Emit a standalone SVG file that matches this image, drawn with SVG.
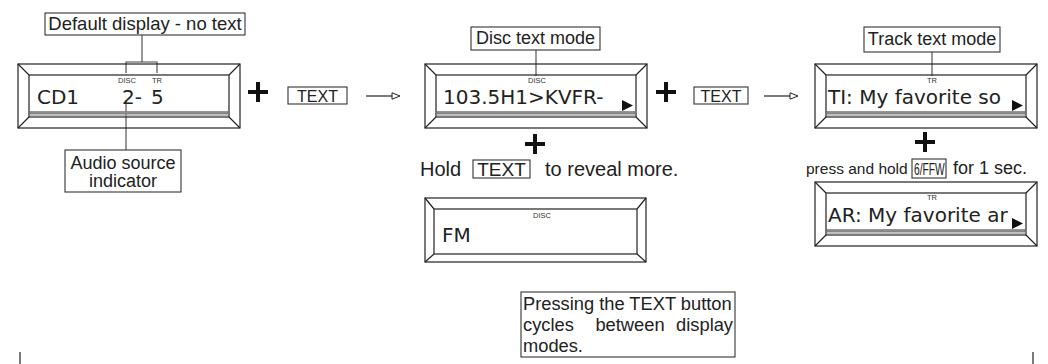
<svg xmlns="http://www.w3.org/2000/svg" xmlns:xlink="http://www.w3.org/1999/xlink" width="1048" height="364" viewBox="0 0 1048 364">
<style>
.ln{fill:none;stroke:#222;stroke-width:1.2}
.cn{fill:none;stroke:#444;stroke-width:1.1}
.box{fill:#fff;stroke:#333;stroke-width:1.1}
.lbl{font-family:"Liberation Sans",Arial,sans-serif;fill:#222}
.dsp{font-family:"DejaVu Sans",Verdana,sans-serif;font-size:20px;fill:#222}
.sm{font-family:"Liberation Sans",Arial,sans-serif;font-size:7.5px;fill:#333}
.plus{fill:none;stroke:#111;stroke-width:4}
.gray{fill:#8c8c8c;stroke:#666;stroke-width:0.5}
.tri{fill:#111}
</style>
<defs>
<g id="bezel">
<rect class="ln" x="0" y="0" width="222" height="64"/>
<rect class="ln" x="11" y="11" width="200" height="42"/>
<path class="ln" d="M0,0 L11,11 M222,0 L211,11 M0,64 L11,53 M222,64 L211,53"/>
</g>
<g id="bar">
<rect class="gray" x="12" y="47.5" width="198" height="2.6"/>
<line x1="12" y1="51.5" x2="210" y2="51.5" stroke="#aaa" stroke-width="0.8"/>
</g>
<marker id="open" markerUnits="userSpaceOnUse" markerWidth="12" markerHeight="10" refX="1" refY="4" orient="auto">
<path d="M1,0.8 L9,4 L1,7.2 z" fill="#fff" stroke="#222" stroke-width="1"/>
</marker>
</defs>
<rect width="1048" height="364" fill="#fff"/>

<g id="connectors">
<path class="cn" d="M142,35 V62 M126,73 V62 H157 V73"/>
<path class="cn" d="M126,100 V150"/>
<path class="cn" d="M536,50 V76"/>
<path class="cn" d="M932,52 V76"/>
<path class="ln" d="M366,96 H392" marker-end="url(#open)"/>
<path class="ln" d="M764,96 H790" marker-end="url(#open)"/>
<path class="ln" d="M20,352 V364 M1033,352 V364"/>
</g>

<g id="label-default">
<rect class="box" x="45" y="13" width="200" height="22"/>
<text class="lbl" x="145" y="30" font-size="18.5" text-anchor="middle">Default display - no text</text>
</g>

<g id="display-default">
<use xlink:href="#bezel" x="18" y="64"/>
<use xlink:href="#bar" x="18" y="64"/>
<text class="sm" x="118" y="83">DISC</text>
<text class="sm" x="152" y="83">TR</text>
<text class="dsp" x="37" y="104">CD1</text>
<text class="dsp" x="122" y="104">2-</text>
<text class="dsp" x="151" y="104">5</text>
</g>

<g id="label-audio">
<rect class="box" x="65" y="150" width="116" height="42"/>
<text class="lbl" x="123" y="169" font-size="18" text-anchor="middle">Audio source</text>
<text class="lbl" x="123" y="187" font-size="18" text-anchor="middle">indicator</text>
</g>

<g id="plus1"><path class="plus" d="M248,92 H268 M258,82 V102"/></g>

<g id="button-text-1">
<rect class="box" x="288" y="87" width="59" height="17"/>
<text class="lbl" x="317.5" y="101.5" font-size="16" text-anchor="middle" fill="#333">TEXT</text>
</g>

<g id="label-disc">
<rect class="box" x="471" y="27" width="129" height="23"/>
<text class="lbl" x="535.5" y="44" font-size="18" text-anchor="middle">Disc text mode</text>
</g>

<g id="display-disc">
<use xlink:href="#bezel" x="425" y="64"/>
<use xlink:href="#bar" x="425" y="64"/>
<text class="sm" x="528" y="83">DISC</text>
<text class="dsp" x="443" y="104">103.5H1&gt;KVFR-</text>
<polygon class="tri" points="622,100 622,111 633,105.5"/>
</g>

<g id="plus2"><path class="plus" d="M656,92 H676 M666,82 V102"/></g>

<g id="button-text-2">
<rect class="box" x="694" y="87" width="54" height="17"/>
<text class="lbl" x="721" y="101.5" font-size="16" text-anchor="middle" fill="#333">TEXT</text>
</g>

<g id="label-track">
<rect class="box" x="864" y="27" width="136" height="25"/>
<text class="lbl" x="932" y="45" font-size="18" text-anchor="middle">Track text mode</text>
</g>

<g id="display-track">
<use xlink:href="#bezel" x="815" y="64"/>
<use xlink:href="#bar" x="815" y="64"/>
<text class="sm" x="927" y="83">TR</text>
<text class="dsp" x="828" y="104">TI: My favorite so</text>
<polygon class="tri" points="1012,100 1012,111 1023,105.5"/>
</g>

<g id="plus3"><path class="plus" d="M525,144 H545 M535,134 V154"/></g>

<g id="hold-text">
<text class="lbl" x="420" y="176" font-size="20">Hold</text>
<rect class="box" x="473" y="160" width="57" height="18"/>
<text class="lbl" x="501.5" y="175.5" font-size="19" text-anchor="middle" fill="#333">TEXT</text>
<text class="lbl" x="545" y="176" font-size="20">to reveal more.</text>
</g>

<g id="display-fm">
<rect class="ln" x="425" y="198" width="221" height="64"/>
<rect class="ln" x="434" y="209" width="203" height="45"/>
<path class="ln" d="M425,198 L434,209 M646,198 L637,209 M425,262 L434,254 M646,262 L637,254"/>
<text class="sm" x="533" y="218">DISC</text>
<text class="dsp" x="442" y="242">FM</text>
</g>

<g id="plus4"><path class="plus" d="M915,142 H935 M925,132 V152"/></g>

<g id="hold-ffw">
<text class="lbl" x="806" y="174" font-size="15.5">press and hold</text>
<rect class="box" x="912" y="159" width="34" height="19"/>
<text class="lbl" transform="translate(914,175) scale(0.64,1)" font-size="16">6/FFW</text>
<text class="lbl" x="953" y="174" font-size="18">for 1 sec.</text>
</g>

<g id="display-artist">
<use xlink:href="#bezel" x="815" y="182"/>
<use xlink:href="#bar" x="815" y="182"/>
<text class="sm" x="927" y="200">TR</text>
<text class="dsp" x="828" y="222">AR: My favorite ar</text>
<polygon class="tri" points="1012,218 1012,229 1023,223.5"/>
</g>

<g id="note">
<rect class="box" x="521" y="292" width="214" height="65"/>
<text class="lbl" x="523" y="310" font-size="18.3">Pressing the TEXT button</text>
<text class="lbl" x="523" y="331" font-size="18.3">cycles</text>
<text class="lbl" x="630" y="331" font-size="18.3" text-anchor="middle">between</text>
<text class="lbl" x="733" y="331" font-size="18.3" text-anchor="end">display</text>
<text class="lbl" x="523" y="352" font-size="18.3">modes.</text>
</g>
</svg>
